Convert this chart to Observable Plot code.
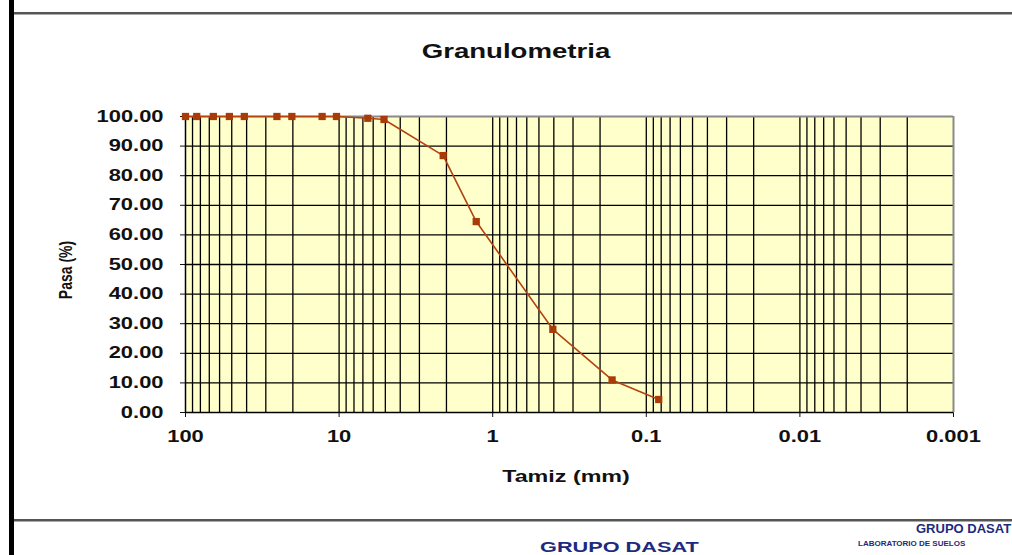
<!DOCTYPE html>
<html><head><meta charset="utf-8">
<script src="https://cdn.jsdelivr.net/npm/d3@7"></script>
<script src="https://cdn.jsdelivr.net/npm/@observablehq/plot@0.6"></script>
<style>
html,body{margin:0;padding:0;background:#fff;overflow:hidden;}
#wrap{position:relative;width:1012px;height:555px;overflow:hidden;font-family:"Liberation Sans",Arial,sans-serif;}
#chart{position:absolute;left:0;top:0;}
.abs{position:absolute;white-space:nowrap;line-height:1;}
.c{transform-origin:center center;}
</style></head><body>
<div id="wrap">
  <div id="chart"></div>
  <div class="abs" style="left:9px;top:0;width:5px;height:555px;background:#000;"></div>
  <div class="abs" style="left:14px;right:0;top:12px;height:2px;background:#555;border-bottom:1px solid #aaa;"></div>
  <div class="abs" style="left:14px;right:0;top:519px;height:2px;background:#555;border-bottom:1px solid #aaa;"></div>
  <div class="abs c" id="title" style="left:516px;top:51px;font-size:20px;font-weight:bold;color:#111;transform:translate(-50%,-50%) scaleX(1.38);">Granulometria</div>
  <div class="abs c" id="ylab" style="left:65px;top:270px;font-size:14px;font-weight:bold;color:#111;transform:translate(-50%,-50%) rotate(-90deg) scaleY(1.37);">Pasa (%)</div>
  <div class="abs c" id="xlab" style="left:566px;top:476px;font-size:17px;font-weight:bold;color:#111;transform:translate(-50%,-50%) scaleX(1.37);">Tamiz (mm)</div>
  <div class="abs" style="left:540px;top:540px;font-size:14px;font-weight:bold;color:#1d2b7c;transform-origin:left top;transform:scaleX(1.55);">GRUPO DASAT</div>
  <div class="abs" style="left:916px;top:522px;font-size:13px;font-weight:bold;color:#1d2b7c;">GRUPO DASAT</div>
  <div class="abs" style="left:858px;top:540px;font-size:8px;font-weight:bold;color:#1d2b7c;">LABORATORIO DE SUELOS</div>
</div>
<script>
// Data
const sieveSize = [100, 84.5, 65.9, 51.8, 41.4, 25.4, 20.3, 12.9, 10.4, 6.5, 5.1, 2.1, 1.28, 0.406, 0.167, 0.083];
const percentPassing = [100, 100, 100, 100, 100, 100, 100, 100, 100, 99.4, 99.0, 86.8, 64.5, 28.1, 11.0, 4.4];
const xTickValues = [100, 10, 1, 0.1, 0.01, 0.001];
const xTickLabels = ["100", "10", "1", "0.1", "0.01", "0.001"];
const yTickValues = [0, 10, 20, 30, 40, 50, 60, 70, 80, 90, 100];
const decadeBases = [0.001, 0.01, 0.1, 1, 10];
const minorMultipliers = [1, 2, 3, 4, 5, 6, 7, 8, 9];

const data = sieveSize.map((s, i) => ({size: s, pasa: percentPassing[i]}));
const vGrid = decadeBases.flatMap(b => minorMultipliers.map(m => +(b * m).toPrecision(6))).filter(v => v > 0.001 && v < 100);
const labelOf = new Map(xTickValues.map((v, i) => [v, xTickLabels[i]]));

const chart = Plot.plot({
  width: 1012,
  height: 555,
  marginLeft: 185,
  marginRight: 59,
  marginTop: 116,
  marginBottom: 143,
  style: {fontFamily: "'Liberation Sans', Arial, sans-serif", fontSize: "16px", fontWeight: "bold", color: "#111", background: "transparent"},
  x: {type: "log", domain: [100, 0.001], ticks: xTickValues, tickFormat: d => labelOf.get(d) ?? "", tickSize: 5, tickPadding: 13, label: null},
  y: {domain: [0, 100], ticks: yTickValues, tickFormat: d => d.toFixed(2), tickSize: 5, tickPadding: 17, label: null},
  marks: [
    Plot.frame({fill: "#ffffcc", stroke: null}),
    Plot.ruleX(vGrid, {stroke: "#000", strokeWidth: 1.3}),
    Plot.ruleY(yTickValues.filter(v => v > 0 && v < 100), {stroke: "#000", strokeWidth: 1.3}),
    Plot.ruleY([100], {stroke: "#8a8a8a", strokeWidth: 2}),
    Plot.ruleX([0.001], {stroke: "#8a8a8a", strokeWidth: 2}),
    Plot.ruleX([100], {stroke: "#000", strokeWidth: 1.5}),
    Plot.ruleY([0], {stroke: "#000", strokeWidth: 1.5}),
    Plot.line(data, {x: "size", y: "pasa", stroke: "#b3440f", strokeWidth: 1.6}),
    Plot.dot(data, {x: "size", y: "pasa", symbol: "square", r: 4.1, fill: "#a83b08", stroke: "none"})
  ]
});
document.getElementById("chart").appendChild(chart);

// horizontal stretch of tick labels to match the reference's wide lettering
const SX = 1.37;
chart.querySelectorAll("text").forEach(t => {
  const tr = t.getAttribute("transform");
  if (tr) t.setAttribute("transform", tr + ` scale(${SX},1)`);
  else {
    const x = +t.getAttribute("x") || 0, y = +t.getAttribute("y") || 0;
    t.removeAttribute("x"); t.removeAttribute("y");
    t.setAttribute("transform", `translate(${x},${y}) scale(${SX},1)`);
  }
});
</script>
</body></html>
